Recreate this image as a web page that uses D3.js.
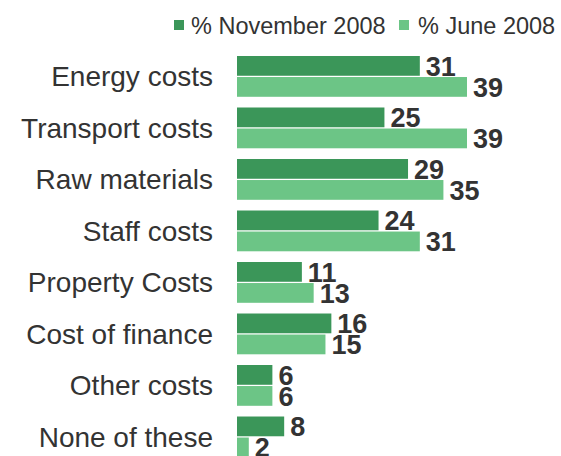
<!DOCTYPE html>
<html>
<head>
<meta charset="utf-8">
<script src="https://cdn.jsdelivr.net/npm/d3@7"></script>
<style>
  html, body { margin: 0; padding: 0; background: #fff; }
  svg { display: block; }
</style>
</head>
<body>
<svg id="chart" width="561" height="456"></svg>
<script>
const categories = ["Energy costs", "Transport costs", "Raw materials", "Staff costs",
  "Property Costs", "Cost of finance", "Other costs", "None of these"];
const seriesNames = ["% November 2008", "% June 2008"];
const november2008 = [31, 25, 29, 24, 11, 16, 6, 8];
const june2008 = [39, 39, 35, 31, 13, 15, 6, 2];
const seriesValues = [november2008, june2008];
const colors = ["#3b9659", "#6cc586"];

const svg = d3.select("#chart");
const font = "'Liberation Sans', Arial, sans-serif";

const x = d3.scaleLinear().domain([0, 39]).range([237, 467]);
const y = d3.scaleBand().domain(categories).range([56, 457.3]).paddingInner(0.208).paddingOuter(0);
const ySub = d3.scaleBand().domain(seriesNames).range([0, y.bandwidth()]).paddingInner(0.06);

// Category labels
svg.append("g").selectAll("text").data(categories).join("text")
  .attr("x", 213)
  .attr("y", d => y(d) + y.bandwidth() / 2)
  .attr("dy", "0.36em")
  .attr("text-anchor", "end")
  .attr("font-family", font)
  .attr("font-size", 28)
  .attr("fill", "#333")
  .text(d => d);

// Bars & labels
const groups = svg.append("g").selectAll("g").data(categories).join("g")
  .attr("transform", d => `translate(0,${y(d)})`);

seriesNames.forEach((s, si) => {
  groups.append("rect")
    .attr("x", x(0))
    .attr("y", ySub(s))
    .attr("width", (d, i) => x(seriesValues[si][i]) - x(0))
    .attr("height", ySub.bandwidth())
    .attr("fill", colors[si]);
  groups.append("text")
    .attr("x", (d, i) => x(seriesValues[si][i]) + 6)
    .attr("y", ySub(s) + ySub.bandwidth())
    .attr("font-family", font)
    .attr("font-size", 27)
    .attr("font-weight", "bold")
    .attr("fill", "#333")
    .text((d, i) => seriesValues[si][i]);
});

// Legend
const legendItems = [{name: seriesNames[0], sx: 174, tx: 191}, {name: seriesNames[1], sx: 399, tx: 418}];
const lg = svg.append("g");
legendItems.forEach((it, i) => {
  lg.append("rect").attr("x", it.sx).attr("y", 20).attr("width", 10).attr("height", 10).attr("fill", colors[i]);
  lg.append("text").attr("x", it.tx).attr("y", 33.5)
    .attr("font-family", font).attr("font-size", 23.5).attr("fill", "#333").text(it.name);
});
</script>
</body>
</html>
